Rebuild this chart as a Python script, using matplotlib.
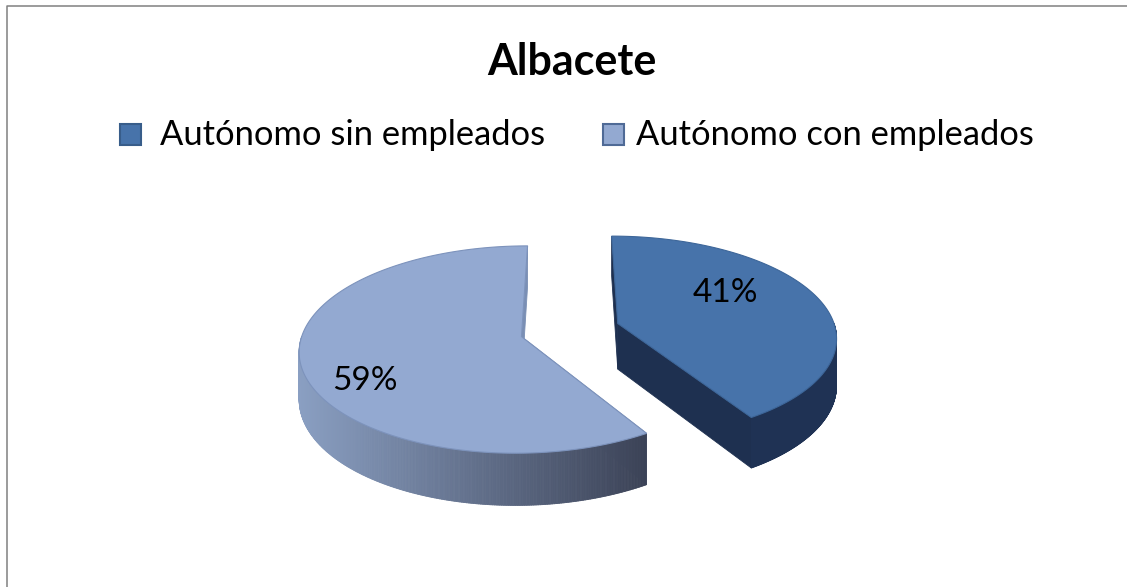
import numpy as np
import matplotlib
matplotlib.use('Agg')
import matplotlib.pyplot as plt
from matplotlib.patches import Polygon, Rectangle
from matplotlib.collections import PolyCollection
from matplotlib.lines import Line2D
from matplotlib.colors import to_rgb

# ---------------- data ----------------
title = "Albacete"
categories = ["Autónomo sin empleados", "Autónomo con empleados"]
values = [41, 59]
pct_labels = ["41%", "59%"]

# ---------------- style ----------------
top_colors = ['#4773AA', '#93A9D1']
top_edges = ['#3D6699', '#7D93BC']
side_left = ['#1F3254', '#8A9FC2']
side_right = ['#1F3254', '#3B4256']
radial_colors = ['#1E3050', '#7A8FB4']
legend_edges = ['#385D8A', '#4F6A96']
FONT = 'Lato'

W, H = 1127, 587
fig = plt.figure(figsize=(W / 100, H / 100), dpi=100)
ax = fig.add_axes([0, 0, 1, 1])
ax.set_xlim(0, W)
ax.set_ylim(H, 0)
ax.axis('off')

# 3D pie geometry (screen layout)
cx, cy = 570, 330
a, b = 218, 102
persp = 0.127
depth = 46
explode = 0.23
label_shift = 15.0
label_r = [0.62, 0.78]


def proj(u, v, z):
    u = np.asarray(u, float)
    v = np.asarray(v, float)
    s = 1 - persp * v
    return cx + a * u * s, cy - b * v * s + depth * z * s


fr = np.array(values, float) / np.sum(values)
ends = np.cumsum(fr) * 360.0
starts = ends - fr * 360.0

for i in range(len(values)):
    t0, t1 = starts[i], ends[i]
    mid = np.radians((t0 + t1) / 2)
    ou, ov = explode * np.sin(mid), explode * np.cos(mid)
    th = np.radians(np.linspace(t0, t1, 400))
    ru, rv = ou + np.sin(th), ov + np.cos(th)

    # radial walls
    for te in (t0, t1):
        tr = np.radians(te)
        eu, ev = ou + np.sin(tr), ov + np.cos(tr)
        pts = [proj(ou, ov, 0), proj(eu, ev, 0), proj(eu, ev, 1), proj(ou, ov, 1)]
        ax.add_patch(Polygon([(float(x), float(y)) for x, y in pts], closed=True,
                             facecolor=radial_colors[i], edgecolor=radial_colors[i],
                             linewidth=0.6, zorder=2))

    # outer (front) wall with gradient
    lo, hi = max(t0, 90.0), min(t1, 270.0)
    if hi > lo:
        tw = np.radians(np.linspace(lo, hi, 300))
        wu, wv = ou + np.sin(tw), ov + np.cos(tw)
        x0, y0 = proj(wu, wv, 0)
        x1, y1 = proj(wu, wv, 1)
        quads, cols = [], []
        c_l, c_r = np.array(to_rgb(side_left[i])), np.array(to_rgb(side_right[i]))
        xmin, xmax = x0.min(), x0.max()
        for k in range(len(tw) - 1):
            quads.append([(x0[k], y0[k]), (x0[k + 1], y0[k + 1]),
                          (x1[k + 1], y1[k + 1]), (x1[k], y1[k])])
            f = ((x0[k] + x0[k + 1]) / 2 - xmin) / max(xmax - xmin, 1)
            cols.append(tuple(c_l * (1 - f) + c_r * f))
        ax.add_collection(PolyCollection(quads, facecolors=cols, edgecolors=cols,
                                         linewidths=0.6, zorder=3))

    # top face
    xs, ys = proj(np.concatenate([[ou], ru]), np.concatenate([[ov], rv]), 0)
    ax.add_patch(Polygon(np.column_stack([xs, ys]), closed=True,
                         facecolor=top_colors[i], edgecolor=top_edges[i],
                         linewidth=0.8, zorder=4))

    # percentage label
    lt = mid - np.radians(label_shift)
    lx, ly = proj(ou + label_r[i] * np.sin(lt), ov + label_r[i] * np.cos(lt), 0)
    ax.text(float(lx), float(ly), pct_labels[i], ha='center', va='center',
            fontsize=24, family=FONT, color='black', zorder=6)

# title
ax.text(572, 75, title, ha='center', va='baseline', fontsize=31,
        fontweight='bold', family=FONT, color='black')

# legend
sq_x = [120, 603]
tx_x = [160, 636]
for i, cat in enumerate(categories):
    ax.add_patch(Rectangle((sq_x[i], 124), 21, 21, facecolor=top_colors[i],
                           edgecolor=legend_edges[i], linewidth=1.5, zorder=5))
    ax.text(tx_x[i], 145, cat, ha='left', va='baseline', fontsize=24.8,
            family=FONT, color='black')

# chart border (left and top visible)
ax.add_line(Line2D([6.5, 6.5, W + 5], [H + 5, 5.5, 5.5], color='#808080',
                   linewidth=1.1, zorder=7))

fig.savefig('out.png', dpi=100, facecolor='white')
